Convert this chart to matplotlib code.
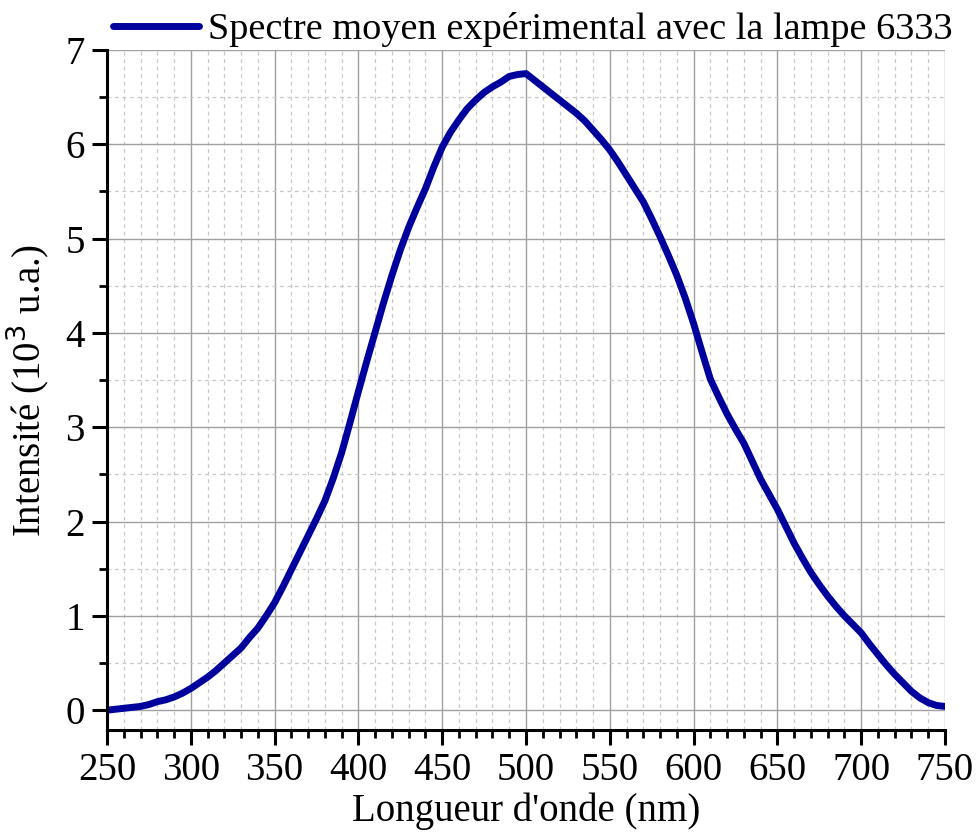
import matplotlib
matplotlib.use("Agg")
import matplotlib.pyplot as plt
from matplotlib.ticker import MultipleLocator

wavelength = list(range(250, 751, 5))
intensity = [0.00, 0.01, 0.02, 0.03, 0.04, 0.06, 0.09, 0.11, 0.14, 0.18,
             0.23, 0.29, 0.35, 0.42, 0.50, 0.58, 0.66, 0.77, 0.87, 1.00,
             1.14, 1.31, 1.49, 1.67, 1.85, 2.03, 2.22, 2.46, 2.73, 3.05,
             3.38, 3.70, 4.01, 4.32, 4.61, 4.88, 5.12, 5.33, 5.53, 5.76,
             5.97, 6.13, 6.26, 6.38, 6.47, 6.55, 6.61, 6.66, 6.72, 6.74,
             6.75, 6.68, 6.61, 6.54, 6.47, 6.40, 6.33, 6.25, 6.15, 6.05,
             5.94, 5.81, 5.67, 5.53, 5.39, 5.21, 5.02, 4.82, 4.61, 4.37,
             4.10, 3.80, 3.51, 3.32, 3.14, 2.98, 2.83, 2.64, 2.45, 2.29,
             2.13, 1.95, 1.77, 1.61, 1.46, 1.33, 1.21, 1.10, 1.00, 0.91,
             0.82, 0.70, 0.59, 0.48, 0.38, 0.29, 0.20, 0.13, 0.08, 0.05,
             0.04]

label = "Spectre moyen expérimental avec la lampe 6333"

plt.rcParams['font.family'] = ['Liberation Serif', 'DejaVu Serif']
fs = 28
lfs = 27.5

fig = plt.figure(figsize=(9.77, 8.35), dpi=100)
ax = fig.add_axes([107/977, 1-730/835, 838/977, 680/835])

ax.plot(wavelength, intensity, color='#00009c', lw=5, label=label,
        solid_joinstyle='round', solid_capstyle='round')

ax.set_xlim(250, 750)
ax.set_ylim(-0.21, 7)
ax.xaxis.set_major_locator(MultipleLocator(50))
ax.xaxis.set_minor_locator(MultipleLocator(10))
ax.yaxis.set_major_locator(MultipleLocator(1))
ax.yaxis.set_minor_locator(MultipleLocator(0.5))

ax.grid(which='major', color='#a0a0a0', lw=1.0, ls='-')
ax.grid(which='minor', color='#c8c8c8', lw=0.9, ls=(0, (3, 3)))
ax.set_axisbelow(True)

for s in ['top', 'right']:
    ax.spines[s].set_visible(False)
for s in ['left', 'bottom']:
    ax.spines[s].set_linewidth(2.2)

ax.tick_params(which='major', direction='out', length=11, width=2.2, labelsize=fs, pad=5)
ax.tick_params(which='minor', direction='out', length=6, width=2.0)

ax.set_xlabel("Longueur d'onde (nm)", fontsize=fs, labelpad=2)
ax.set_ylabel("Intensité (10$^3$ u.a.)", fontsize=fs, labelpad=10)

fig.legend(loc='upper left', bbox_to_anchor=(113/977, 1 - 12/835), frameon=False,
           fontsize=lfs, handlelength=2.25, handletextpad=0.25, borderaxespad=0.0,
           borderpad=0.0)

fig.savefig("out.png", dpi=100)
